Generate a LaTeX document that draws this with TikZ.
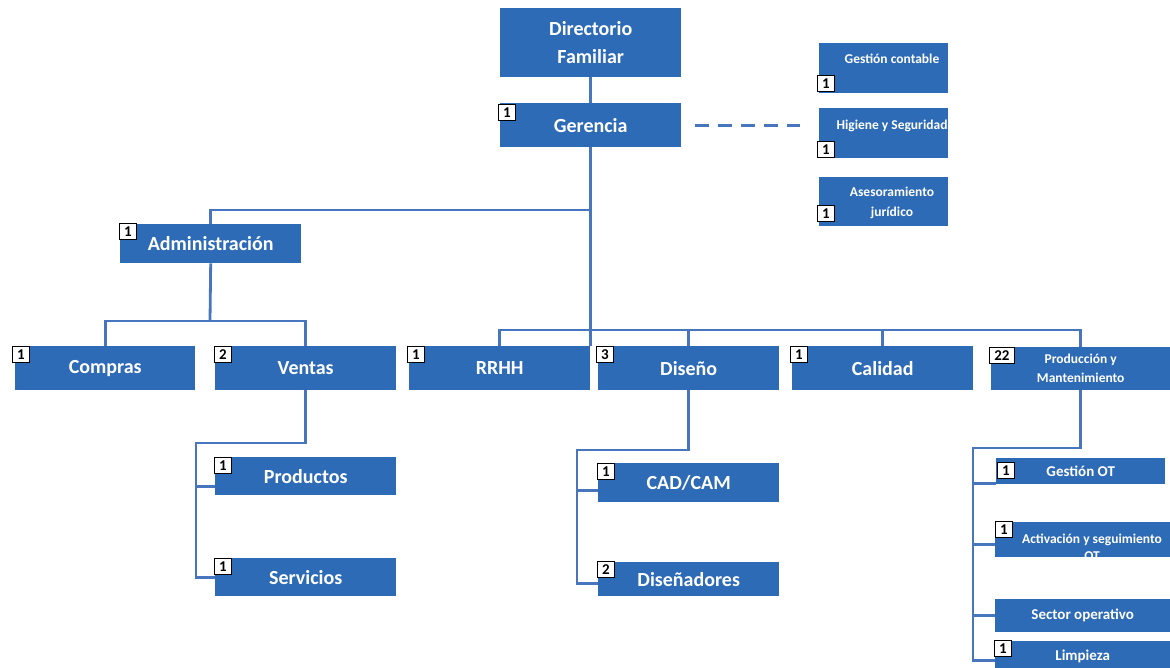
\documentclass[tikz,border=0pt]{standalone}
\usepackage{fontspec}
\setmainfont{Carlito}
\definecolor{OrgCajaAzul}{RGB}{46,107,183}
\definecolor{OrgLineaAzul}{RGB}{72,118,190}

\begin{document}
\begin{tikzpicture}[x=1pt,y=-1pt,
caja/.style n args={2}{fill=OrgCajaAzul,text=white,anchor=north west,minimum width=#1,minimum height=#2,inner sep=0pt,align=center,font=\bfseries\fontsize{20}{28}\selectfont},
txt/.style={text=white,align=center,inner sep=0pt,font=\bfseries\fontsize{13.5}{20}\selectfont},
num/.style={draw=black,fill=white,anchor=north west,inner sep=0pt,minimum width=#1,minimum height=16,line width=0.9pt,font=\bfseries\fontsize{15}{15}\selectfont},
num/.default=17,
linea/.style={draw=OrgLineaAzul,line width=2.8pt}]
\useasboundingbox (0,0) rectangle (1170,668);
% direccion
\node[caja={181}{69}] (dir) at (500,8) {Directorio\\Familiar};
\node[caja={181}{44}] (ger) at (500,103) {Gerencia};
\node[num] (nger) at (498,104) {1};
% staff
\node[caja={129}{50}] (gc) at (819,43) {};
\node[txt] (gct) at (892,59) {Gestión contable};
\node[num] (ngc) at (817,75) {1};
\node[caja={129}{50}] (hs) at (819,108) {};
\node[txt] (hst) at (892,126) {Higiene y Seguridad};
\node[num] (nhs) at (817,141) {1};
\node[caja={129}{49}] (aj) at (819,177) {};
\node[txt] (ajt) at (892,203) {Asesoramiento\\jurídico};
\node[num] (naj) at (817,205) {1};
% areas
\node[caja={181}{39}] (adm) at (120,224) {Administración};
\node[num] (nadm) at (119,223) {1};
\node[caja={180}{44}] (compras) at (15,346) {Compras};
\node[num] (ncompras) at (12,346) {1};
\node[caja={181}{44}] (ventas) at (215,346) {Ventas};
\node[num] (nventas) at (214,346) {2};
\node[caja={181}{44}] (rrhh) at (409,346) {RRHH};
\node[num] (nrrhh) at (407,346) {1};
\node[caja={181}{44}] (diseno) at (598,346) {Diseño};
\node[num] (ndiseno) at (596,346) {3};
\node[caja={181}{44}] (calidad) at (792,346) {Calidad};
\node[num] (ncalidad) at (790,346) {1};
\node[caja={179}{43},font=\bfseries\fontsize{13.5}{19}\selectfont] (produccion) at (991,347) {Producción y\\Mantenimiento};
\node[num=25] (nproduccion) at (989,347) {22};
% sub areas
\node[caja={181}{38}] (productos) at (215,457) {Productos};
\node[num] (nproductos) at (214,457) {1};
\node[caja={181}{38}] (servicios) at (215,558) {Servicios};
\node[num] (nservicios) at (214,558) {1};
\node[caja={181}{39}] (cadcam) at (598,463) {CAD/CAM};
\node[num] (ncadcam) at (597,463) {1};
\node[caja={181}{34}] (disenadores) at (598,562) {Diseñadores};
\node[num] (ndisenadores) at (597,561) {2};
\node[caja={169}{26},font=\bfseries\fontsize{15}{16}\selectfont] (gestot) at (996,458) {Gestión OT};
\node[num] (ngestot) at (997,462) {1};
\node[caja={175}{35}] (activ) at (995,522) {};
\node[txt,font=\bfseries\fontsize{13.5}{17}\selectfont] (activt) at (1092,547) {Activación y seguimiento\\OT};
\node[num] (nactiv) at (995,521) {1};
\node[caja={175}{33},font=\bfseries\fontsize{15}{16}\selectfont] (sector) at (995,599) {Sector operativo};
\node[caja={175}{30},font=\bfseries\fontsize{15}{16}\selectfont] (limpieza) at ([yshift=-3pt]995,638) {Limpieza};
\node[num] (nlimpieza) at (994,640) {1};
% lineas
\draw[linea] (dir) -- (ger);
\draw[linea] (ger.south) -- (ger.south |- rrhh.north);
\draw[linea,dash pattern=on 14pt off 9pt,shorten <=14pt,shorten >=19pt] (ger.east) -- (ger.east -| hs.west);
\coordinate (ramaA) at (590.5,210);
\draw[linea] (ramaA) -| (adm.north);
\coordinate (ramaB) at (210,321);
\draw[linea] (adm.south) -- (ramaB);
\draw[linea] (compras.north) |- (ramaB) -| (ventas.north);
\coordinate (bus) at (700,330);
\draw[linea] (rrhh.north) |- (bus) -| (produccion.north);
\foreach \n in {diseno,calidad}
   \draw[linea] (bus -| \n.north) -- (\n.north);
% Ventas
\coordinate (ramaV) at (196,443);
\draw[linea] (ventas.south) |- (ramaV) |- (servicios.west);
\draw[linea] ([yshift=-10pt]productos.west) -- ([yshift=-10pt]productos.west -| ramaV);
% Diseno
\coordinate (ramaD) at (577,450);
\draw[linea] (diseno.south) |- (ramaD) |- ([yshift=-4pt]disenadores.west);
\draw[linea] ([yshift=-8pt]cadcam.west) -- ([yshift=-8pt]cadcam.west -| ramaD);
% Produccion
\coordinate (ramaP) at (973,448);
\draw[linea] (produccion.south) |- (ramaP) |- ([yshift=-4pt]limpieza.west);
\foreach \n/\d in {gestot/12,activ/5,sector/0}
   \draw[linea] ([yshift=-\d pt]\n.west) -- ([yshift=-\d pt]\n.west -| ramaP);
\end{tikzpicture}
\end{document}
